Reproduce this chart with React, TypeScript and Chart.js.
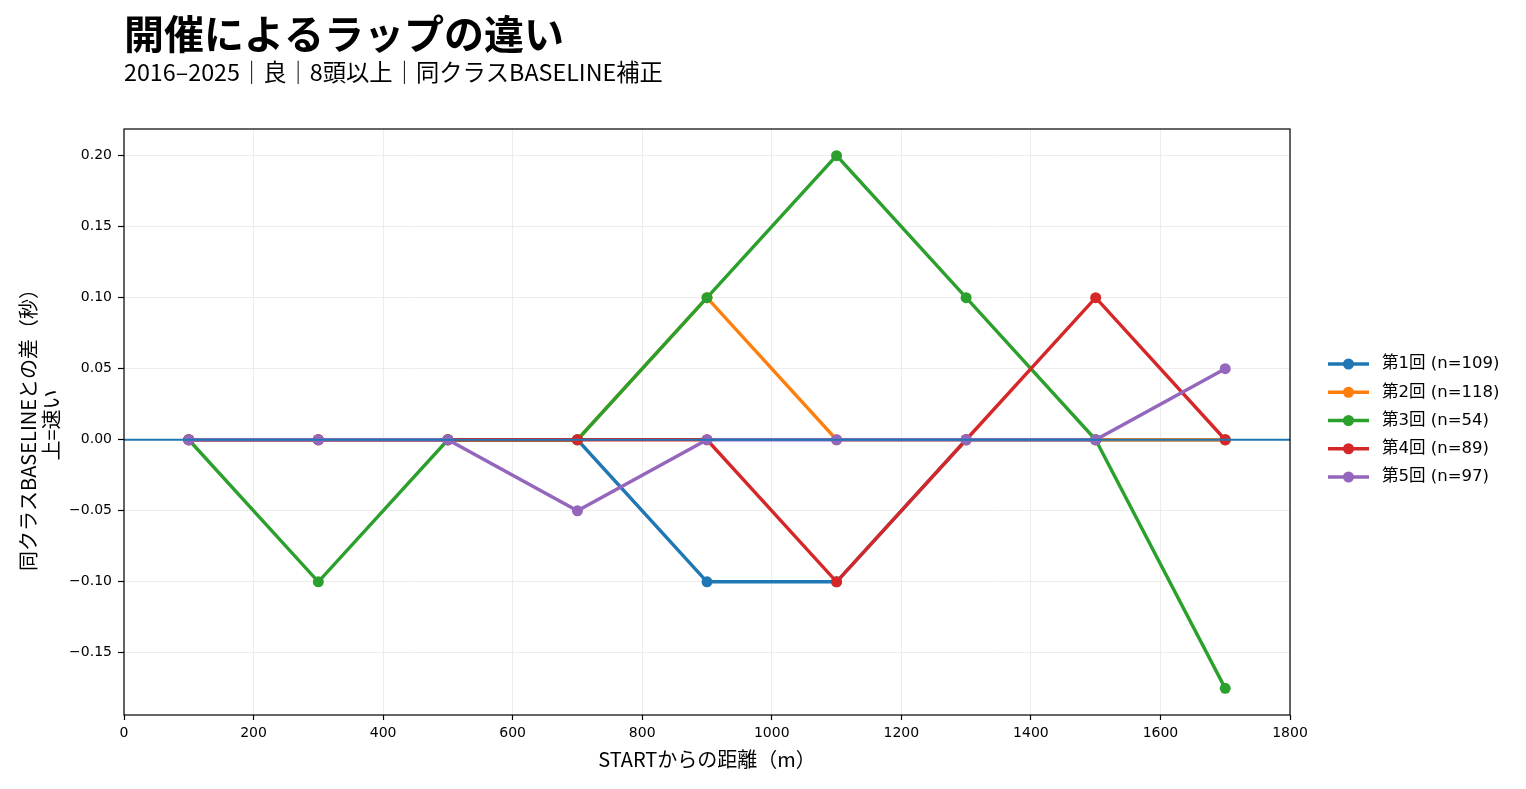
import React, { useEffect, useRef } from "react";
import { Chart, registerables } from "chart.js";

Chart.register(...registerables);

const titleText = "開催によるラップの違い";
const subtitleText = "2016–2025｜良｜8頭以上｜同クラスBASELINE補正";
const xAxisTitle = "STARTからの距離（m）";
const yAxisTitle = ["同クラスBASELINEとの差（秒）", "上=速い"];

const distances = [100, 300, 500, 700, 900, 1100, 1300, 1500, 1700];
const seriesLabels = [
  "第1回 (n=109)",
  "第2回 (n=118)",
  "第3回 (n=54)",
  "第4回 (n=89)",
  "第5回 (n=97)",
];
const kai1 = [0, 0, 0, 0, -0.1, -0.1, 0, 0, 0];
const kai2 = [0, 0, 0, 0, 0.1, 0, 0, 0, 0];
const kai3 = [0, -0.1, 0, 0, 0.1, 0.2, 0.1, 0, -0.175];
const kai4 = [0, 0, 0, 0, 0, -0.1, 0, 0.1, 0];
const kai5 = [0, 0, 0, -0.05, 0, 0, 0, 0, 0.05];
const seriesValues = [kai1, kai2, kai3, kai4, kai5];
const colors = ["#1f77b4", "#ff7f0e", "#2ca02c", "#d62728", "#9467bd"];

const xTicks = [0, 200, 400, 600, 800, 1000, 1200, 1400, 1600, 1800];
const yTicks = [-0.15, -0.1, -0.05, 0, 0.05, 0.1, 0.15, 0.2];

const FONT = '"Noto Sans CJK JP", "Noto Sans", sans-serif';
const TICKFONT = '"DejaVu Sans", "Noto Sans CJK JP", sans-serif';

const fmtY = (v: number) =>
  (v < -1e-9 ? "\u2212" : "") + Math.abs(v).toFixed(2);

const decoPlugin = {
  id: "deco",
  afterDatasetsDraw(chart: any) {
    const { ctx, chartArea } = chart;
    const y0 = chart.scales.y.getPixelForValue(0);
    ctx.save();
    ctx.strokeStyle = "#1f77b4";
    ctx.lineWidth = 2;
    ctx.beginPath();
    ctx.moveTo(chartArea.left, y0);
    ctx.lineTo(chartArea.right, y0);
    ctx.stroke();
    ctx.restore();
  },
  afterDraw(chart: any) {
    const { ctx, chartArea } = chart;
    ctx.save();
    // frame
    ctx.strokeStyle = "#000";
    ctx.lineWidth = 1.2;
    ctx.strokeRect(
      chartArea.left,
      chartArea.top,
      chartArea.right - chartArea.left,
      chartArea.bottom - chartArea.top
    );
    // title
    ctx.fillStyle = "#000";
    ctx.textAlign = "left";
    ctx.textBaseline = "alphabetic";
    ctx.font = `bold 40px ${FONT}`;
    ctx.fillText(titleText, 124, 49);
    ctx.font = `23.3px ${FONT}`;
    ctx.fillText(subtitleText, 124, 81);
    // x axis title
    ctx.font = `20px ${FONT}`;
    ctx.textAlign = "center";
    ctx.textBaseline = "middle";
    ctx.fillText(xAxisTitle, (chartArea.left + chartArea.right) / 2, 759);
    // y axis title
    ctx.save();
    ctx.translate(28, 425);
    ctx.rotate(-Math.PI / 2);
    ctx.fillText(yAxisTitle[0], 0, 0);
    ctx.fillText(yAxisTitle[1], 0, 23);
    ctx.restore();
    // legend
    ctx.font = `16.5px ${TICKFONT}`;
    ctx.textAlign = "left";
    ctx.textBaseline = "middle";
    seriesLabels.forEach((lab, i) => {
      const y = 364 + i * 28.25;
      ctx.strokeStyle = colors[i];
      ctx.lineWidth = 3.4;
      ctx.beginPath();
      ctx.moveTo(1328, y);
      ctx.lineTo(1369, y);
      ctx.stroke();
      ctx.fillStyle = colors[i];
      ctx.beginPath();
      ctx.arc(1348.5, y, 5.5, 0, Math.PI * 2);
      ctx.fill();
      ctx.fillStyle = "#000";
      ctx.fillText(lab, 1382, y);
    });
    ctx.restore();
  },
};

export default function App() {
  const ref = useRef<HTMLCanvasElement | null>(null);
  useEffect(() => {
    if (!ref.current) return;
    const chart = new Chart(ref.current, {
      type: "line",
      data: {
        datasets: seriesValues.map((vals, i) => ({
          label: seriesLabels[i],
          data: distances.map((d, j) => ({ x: d, y: vals[j] })),
          borderColor: colors[i],
          backgroundColor: colors[i],
          borderWidth: 3.4,
          pointRadius: 5.5,
          pointHoverRadius: 5.5,
          pointBorderWidth: 0,
          pointBackgroundColor: colors[i],
          tension: 0,
          fill: false,
          order: 5 - i,
        })),
      },
      options: {
        animation: false,
        responsive: false,
        devicePixelRatio: 1,
        layout: { padding: { left: 0, top: 129, right: 236, bottom: 0 } },
        plugins: {
          legend: { display: false },
          title: { display: false },
          tooltip: { enabled: false },
        },
        scales: {
          x: {
            type: "linear",
            min: 0,
            max: 1800,
            afterFit: (s: any) => {
              s.height = 74;
            },
            afterBuildTicks: (s: any) => {
              s.ticks = xTicks.map((v) => ({ value: v }));
            },
            grid: {
              color: "#e8e8e8",
              lineWidth: 0.8,
              tickColor: "#000",
              tickLength: 5,
              tickWidth: 1.2,
            },
            border: { display: false },
            ticks: {
              color: "#000",
              font: { family: TICKFONT, size: 14 },
              padding: 5,
              maxRotation: 0,
              autoSkip: false,
              callback: (v: any) => String(v),
            },
          },
          y: {
            type: "linear",
            min: -0.19375,
            max: 0.21875,
            afterFit: (s: any) => {
              s.width = 124;
            },
            afterBuildTicks: (s: any) => {
              s.ticks = yTicks.map((v) => ({ value: v }));
            },
            grid: {
              color: "#e8e8e8",
              lineWidth: 0.8,
              tickColor: "#000",
              tickLength: 6,
              tickWidth: 1.2,
            },
            border: { display: false },
            ticks: {
              color: "#000",
              font: { family: TICKFONT, size: 14 },
              padding: 6,
              autoSkip: false,
              callback: (v: any) => fmtY(Number(v)),
            },
          },
        },
      },
      plugins: [decoPlugin],
    });
    return () => chart.destroy();
  }, []);
  return (
    <div style={{ position: "absolute", left: 0, top: 0, width: 1526, height: 789 }}>
      <canvas ref={ref} width={1526} height={789} style={{ width: 1526, height: 789, display: "block" }} />
    </div>
  );
}
